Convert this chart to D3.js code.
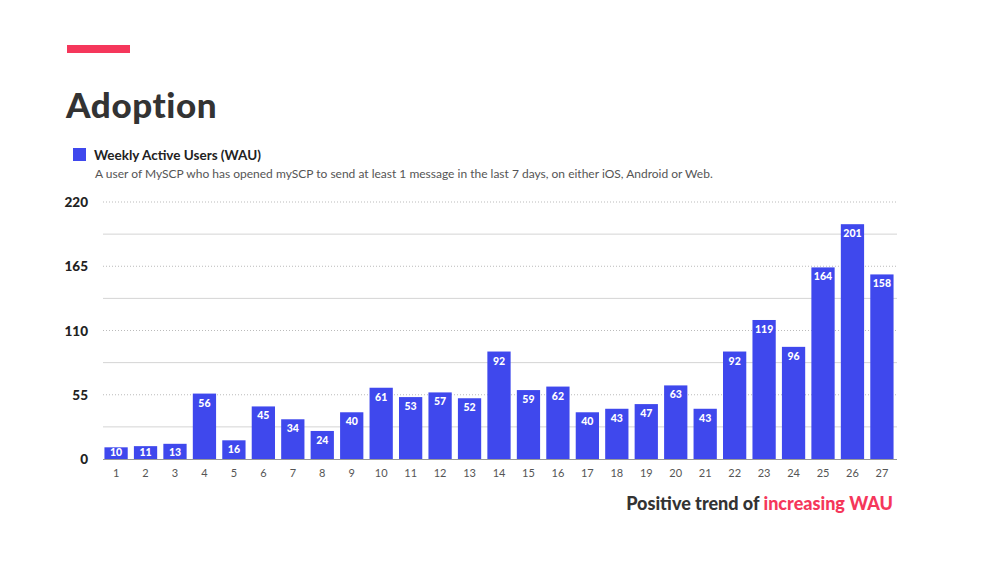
<!DOCTYPE html>
<html><head><meta charset="utf-8">
<script src="https://cdn.jsdelivr.net/npm/d3@7"></script>
<style>body{margin:0;background:#fff;} svg{display:block;font-family:Lato, "Open Sans", sans-serif;}</style>
</head><body>
<svg id="c" width="1000" height="563"></svg>
<script>
const weeks = ["1","2","3","4","5","6","7","8","9","10","11","12","13","14","15","16","17","18","19","20","21","22","23","24","25","26","27"];
const wau = [10,11,13,56,16,45,34,24,40,61,53,57,52,92,59,62,40,43,47,63,43,92,119,96,164,201,158];
const majorTicks = [0,55,110,165,220];
const minorTicks = [27.5,82.5,137.5,192.5];

const svg = d3.select("#c");
const barColor = "#3f48ed";
const red = "#f5375b";

svg.append("rect").attr("x",67).attr("y",45).attr("width",63).attr("height",8).attr("fill",red);
svg.append("text").attr("x",66).attr("y",118).attr("font-size",35).attr("font-weight",900).attr("letter-spacing",0.6).attr("fill","#333").text("Adoption");

svg.append("rect").attr("x",73).attr("y",148).attr("width",13).attr("height",13).attr("fill",barColor);
svg.append("text").attr("x",94).attr("y",160).attr("font-size",13.5).attr("font-weight",700).attr("fill","#222").text("Weekly Active Users (WAU)");
svg.append("text").attr("x",95).attr("y",178).attr("font-size",12).attr("fill","#555").text("A user of MySCP who has opened mySCP to send at least 1 message in the last 7 days, on either iOS, Android or Web.");

const x = d3.scaleBand().domain(weeks).range([101.5,896.5]).paddingInner(0.21).paddingOuter(0.1);
const y = d3.scaleLinear().domain([0,220]).range([459,202]);

const g = svg.append("g");
g.selectAll("line.minor").data(minorTicks).join("line").attr("class","minor")
  .attr("x1",103).attr("x2",897).attr("y1",d=>y(d)).attr("y2",d=>y(d))
  .attr("stroke","#d4d4d4").attr("stroke-width",1);
g.selectAll("line.major").data(majorTicks.filter(d=>d>0)).join("line").attr("class","major")
  .attr("x1",103).attr("x2",897).attr("y1",d=>y(d)).attr("y2",d=>y(d))
  .attr("stroke","#bbb").attr("stroke-width",1).attr("stroke-dasharray","1,2");

const yAxis = d3.axisLeft(y).tickValues(majorTicks).tickSize(0).tickPadding(0);
const ya = svg.append("g").attr("transform","translate(88,0)").call(yAxis);
ya.select(".domain").remove();
ya.selectAll("text").attr("font-size",13.5).attr("font-weight",900).attr("fill","#222").attr("font-family","Lato, sans-serif").attr("dy","0.35em");

g.selectAll("rect.bar").data(wau).join("rect").attr("class","bar")
  .attr("x",(d,i)=>x(weeks[i])).attr("width",x.bandwidth())
  .attr("y",d=>y(d)).attr("height",d=>y(0)-y(d)).attr("fill",barColor);

g.selectAll("text.val").data(wau).join("text").attr("class","val")
  .attr("x",(d,i)=>x(weeks[i])+x.bandwidth()/2).attr("y",d=>Math.min(y(d)+13, y(0)-3))
  .attr("text-anchor","middle").attr("font-size",10.5).attr("font-weight",900).attr("fill","#fff").text(d=>d);

svg.append("line").attr("x1",103).attr("x2",897).attr("y1",y(0)+0.5).attr("y2",y(0)+0.5).attr("stroke","#999").attr("stroke-width",1);

const xAxis = d3.axisBottom(x).tickSize(0).tickPadding(0);
const xa = svg.append("g").attr("transform",`translate(0,${y(0)})`).call(xAxis);
xa.select(".domain").remove();
xa.selectAll("text").attr("font-size",11).attr("fill","#555").attr("font-family","Lato, sans-serif").attr("dy","1.6em");

const foot = svg.append("text").attr("x",893).attr("y",510).attr("text-anchor","end").attr("font-size",18).attr("font-weight",900).attr("fill","#333");
foot.append("tspan").text("Positive trend of ");
foot.append("tspan").attr("fill",red).text("increasing WAU");
</script>
</body></html>
